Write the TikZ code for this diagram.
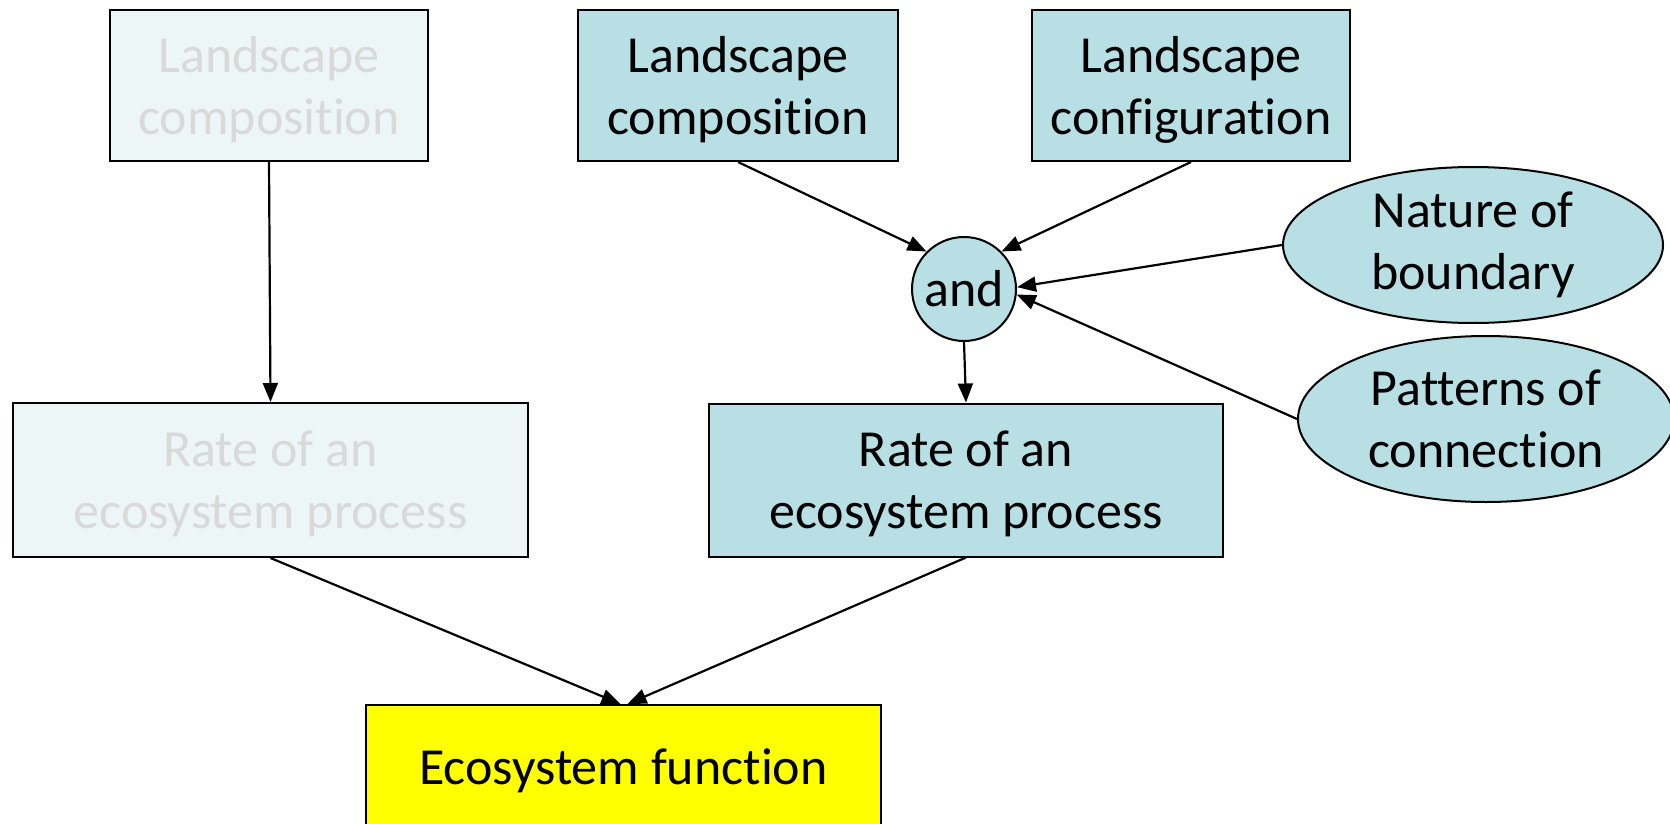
\documentclass[tikz,border=0pt]{standalone}
\usepackage{fontspec}
\setmainfont{Carlito}[Ligatures=NoCommon]
\usetikzlibrary{arrows.meta,shapes.geometric}
\definecolor{boxfill}{HTML}{B8DFE3}
\definecolor{fadefill}{HTML}{EDF6F7}
\definecolor{fadetext}{HTML}{D9D9D9}
\definecolor{ecoyellow}{HTML}{FFFF00}
\begin{document}
\begin{tikzpicture}[x=1pt,y=-1pt,
  every node/.style={font=\fontsize{52}{62}\selectfont, align=center, inner sep=0pt},
  box/.style={draw, line width=2pt, fill=boxfill, text=black, rectangle},
  faded/.style={draw, line width=2pt, fill=fadefill, text=fadetext, rectangle},
  lbl/.style={yshift=-4pt},
  fadelbl/.style={yshift=-4pt, text=fadetext},
  arr/.style={line width=2.2pt, -{Triangle[length=19pt,width=15pt]}}]
\useasboundingbox (0,0) rectangle (1670,824);
\fill[white] (0,0) rectangle (1670,824);
\node[faded, minimum width=318pt, minimum height=151pt] (A) at (269,85.5) {};
\node[fadelbl] (At) at (A) {Landscape\\composition};
\node[box, minimum width=320pt, minimum height=151pt] (D) at (738,85.5) {};
\node[lbl] (Dt) at (D) {Landscape\\composition};
\node[box, minimum width=318pt, minimum height=151pt] (E) at (1191,85.5) {};
\node[lbl] (Et) at (E) {Landscape\\configuration};
\node[faded, minimum width=515pt, minimum height=154pt] (B) at (270.5,480) {};
\node[fadelbl] (Bt) at (B) {Rate of an\\ecosystem process};
\node[box, minimum width=514pt, minimum height=153pt] (C) at (966,480) {};
\node[lbl] (Ct) at (C) {Rate of an\\ecosystem process};
\node[draw, line width=2pt, fill=ecoyellow, minimum width=515pt, minimum height=124pt] (F) at (623.5,767) {};
\node[lbl] (Ft) at (F) {Ecosystem function};
\node[box, circle, minimum size=104pt] (and) at (964,289) {and};
\node[box, ellipse, minimum width=380pt, minimum height=156pt] (N) at (1473,245) {Nature of\\boundary};
\node[box, ellipse, minimum width=376pt, minimum height=166pt] (P) at (1486,419) {Patterns of\\connection};
\draw[arr] (A.south) -- (B.north);
\draw[arr] (D.south) -- (and.135);
\draw[arr] (E.south) -- (and.45);
\draw[arr] (N.west) -- (and.2);
\draw[arr] (P.west) -- (and.-6);
\draw[arr] (and.south) -- (C.north);
\draw[arr] (B.south) -- ([xshift=-3pt]F.north);
\draw[arr] (C.south) -- ([xshift=4pt]F.north);
\end{tikzpicture}
\end{document}
